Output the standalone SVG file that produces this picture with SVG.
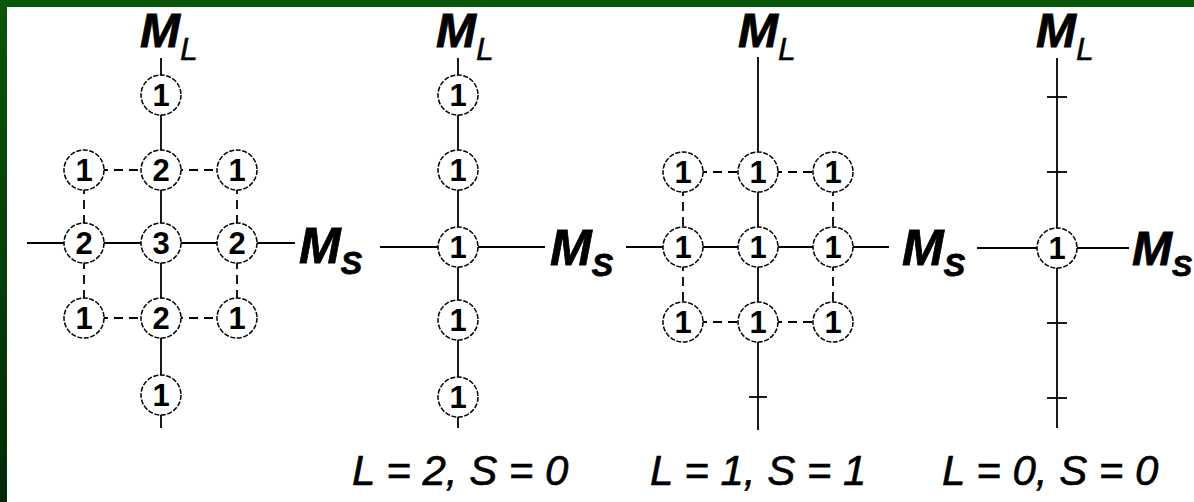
<svg xmlns="http://www.w3.org/2000/svg" width="1194" height="502" viewBox="0 0 1194 502">
<defs>
<linearGradient id="leftg" x1="0" y1="0" x2="0" y2="1">
<stop offset="0" stop-color="#0a560a"/>
<stop offset="1" stop-color="#022a06"/>
</linearGradient>
<style>
.ax{stroke:#000;stroke-width:1.8;fill:none}
.ds{stroke:#000;stroke-width:1.8;fill:none;stroke-dasharray:9 6}
.tk{stroke:#000;stroke-width:1.8}
.nd circle{fill:#fff;stroke:#000;stroke-width:1.5;stroke-dasharray:5 1.6}
.nd text{font-family:"Liberation Sans",Arial,sans-serif;font-weight:bold;font-size:31px;text-anchor:middle;fill:#000}
.m{font-family:"Liberation Sans",Arial,sans-serif;font-weight:bold;font-style:italic;fill:#000;stroke:#000;stroke-width:0.8}
.sub{font-family:"Liberation Sans",Arial,sans-serif;font-style:italic;fill:#000;stroke-width:0.4}
.lab{font-family:"Liberation Sans",Arial,sans-serif;font-style:italic;font-size:42px;fill:#000;stroke:#000;stroke-width:0.6}
</style>
</defs>
<rect x="0" y="0" width="1194" height="502" fill="#fff"/>
<rect x="0" y="0" width="1194" height="7" fill="#0a560a"/>
<rect x="0" y="0" width="7" height="502" fill="url(#leftg)"/>

<g id="connectors">
<!-- diagram 1 -->
<line class="ax" x1="161" y1="58" x2="161" y2="428"/>
<line class="ax" x1="27" y1="243" x2="295" y2="243"/>
<line class="ds" x1="84" y1="170" x2="237" y2="170"/>
<line class="ds" x1="84" y1="318" x2="237" y2="318"/>
<line class="ds" x1="84" y1="170" x2="84" y2="318"/>
<line class="ds" x1="237" y1="170" x2="237" y2="318"/>
<!-- diagram 2 -->
<line class="ax" x1="458" y1="58" x2="458" y2="428"/>
<line class="ax" x1="380" y1="247" x2="545" y2="247"/>
<!-- diagram 3 -->
<line class="ax" x1="758" y1="57" x2="758" y2="430"/>
<line class="ax" x1="626" y1="247" x2="889" y2="247"/>
<line class="ds" x1="683" y1="172" x2="833" y2="172"/>
<line class="ds" x1="683" y1="322" x2="833" y2="322"/>
<line class="ds" x1="683" y1="172" x2="683" y2="322"/>
<line class="ds" x1="833" y1="172" x2="833" y2="322"/>
<line class="tk" x1="749" y1="397" x2="767" y2="397"/>
<!-- diagram 4 -->
<line class="ax" x1="1057" y1="58" x2="1057" y2="428"/>
<line class="ax" x1="977" y1="248" x2="1129" y2="248"/>
<line class="tk" x1="1047" y1="97" x2="1067" y2="97"/>
<line class="tk" x1="1047" y1="172" x2="1067" y2="172"/>
<line class="tk" x1="1047" y1="323" x2="1067" y2="323"/>
<line class="tk" x1="1047" y1="398" x2="1067" y2="398"/>
</g>

<!-- diagram 1 nodes -->
<g id="d1-n1" class="nd"><circle cx="161" cy="95" r="20"/><text x="161" y="106">1</text></g>
<g id="d1-n2" class="nd"><circle cx="84" cy="170" r="20"/><text x="84" y="181">1</text></g>
<g id="d1-n3" class="nd"><circle cx="161" cy="170" r="20"/><text x="161" y="181">2</text></g>
<g id="d1-n4" class="nd"><circle cx="237" cy="170" r="20"/><text x="237" y="181">1</text></g>
<g id="d1-n5" class="nd"><circle cx="84" cy="243" r="20"/><text x="84" y="254">2</text></g>
<g id="d1-n6" class="nd"><circle cx="161" cy="243" r="20"/><text x="161" y="254">3</text></g>
<g id="d1-n7" class="nd"><circle cx="237" cy="243" r="20"/><text x="237" y="254">2</text></g>
<g id="d1-n8" class="nd"><circle cx="84" cy="318" r="20"/><text x="84" y="329">1</text></g>
<g id="d1-n9" class="nd"><circle cx="161" cy="318" r="20"/><text x="161" y="329">2</text></g>
<g id="d1-n10" class="nd"><circle cx="237" cy="318" r="20"/><text x="237" y="329">1</text></g>
<g id="d1-n11" class="nd"><circle cx="161" cy="395" r="20"/><text x="161" y="406">1</text></g>

<!-- diagram 2 nodes -->
<g id="d2-n1" class="nd"><circle cx="458" cy="95" r="20"/><text x="458" y="106">1</text></g>
<g id="d2-n2" class="nd"><circle cx="458" cy="170" r="20"/><text x="458" y="181">1</text></g>
<g id="d2-n3" class="nd"><circle cx="458" cy="247" r="20"/><text x="458" y="258">1</text></g>
<g id="d2-n4" class="nd"><circle cx="458" cy="320" r="20"/><text x="458" y="331">1</text></g>
<g id="d2-n5" class="nd"><circle cx="458" cy="397" r="20"/><text x="458" y="408">1</text></g>

<!-- diagram 3 nodes -->
<g id="d3-n1" class="nd"><circle cx="683" cy="172" r="20"/><text x="683" y="183">1</text></g>
<g id="d3-n2" class="nd"><circle cx="758" cy="172" r="20"/><text x="758" y="183">1</text></g>
<g id="d3-n3" class="nd"><circle cx="833" cy="172" r="20"/><text x="833" y="183">1</text></g>
<g id="d3-n4" class="nd"><circle cx="683" cy="247" r="20"/><text x="683" y="258">1</text></g>
<g id="d3-n5" class="nd"><circle cx="758" cy="247" r="20"/><text x="758" y="258">1</text></g>
<g id="d3-n6" class="nd"><circle cx="833" cy="247" r="20"/><text x="833" y="258">1</text></g>
<g id="d3-n7" class="nd"><circle cx="683" cy="322" r="20"/><text x="683" y="333">1</text></g>
<g id="d3-n8" class="nd"><circle cx="758" cy="322" r="20"/><text x="758" y="333">1</text></g>
<g id="d3-n9" class="nd"><circle cx="833" cy="322" r="20"/><text x="833" y="333">1</text></g>

<!-- diagram 4 node -->
<g id="d4-n1" class="nd"><circle cx="1057" cy="248" r="20"/><text x="1057" y="259">1</text></g>

<!-- axis labels -->
<g id="labels">
<text class="m" x="140" y="47" font-size="48">M<tspan class="sub" font-weight="normal" font-size="32" y="60">L</tspan></text>
<text class="m" x="436" y="47" font-size="48">M<tspan class="sub" font-weight="normal" font-size="32" y="60">L</tspan></text>
<text class="m" x="738" y="47" font-size="48">M<tspan class="sub" font-weight="normal" font-size="32" y="60">L</tspan></text>
<text class="m" x="1036" y="47" font-size="48">M<tspan class="sub" font-weight="normal" font-size="32" y="60">L</tspan></text>

<text class="m" x="299" y="263" font-size="50">M<tspan font-size="32" y="274">S</tspan></text>
<text class="m" x="550" y="265" font-size="50">M<tspan font-size="32" y="276">S</tspan></text>
<text class="m" x="902" y="265" font-size="50">M<tspan font-size="32" y="276">S</tspan></text>
<text class="m" x="1132" y="265" font-size="48">M<tspan font-size="30" y="276">S</tspan></text>

<text class="lab" x="352" y="485">L = 2, S = 0</text>
<text class="lab" x="650" y="485">L = 1, S = 1</text>
<text class="lab" x="942" y="485">L = 0, S = 0</text>
</g>
</svg>
